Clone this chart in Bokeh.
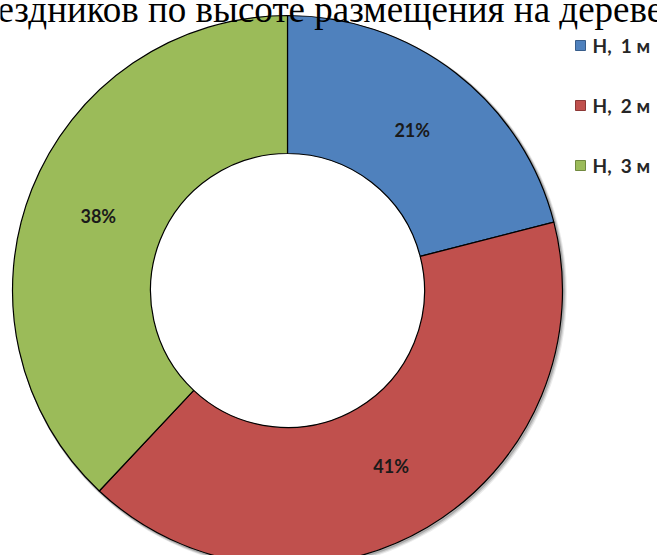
import numpy as np
from bokeh.plotting import figure
from bokeh.models import Range1d, ColumnDataSource
from bokeh.core.properties import value
from bokeh.embed import file_html
from bokeh.resources import INLINE

title_text = "ездников по высоте размещения на дереве"
categories = ["Н,\u00a0 1 м", "Н,\u00a0 2 м", "Н,\u00a0 3 м"]
shares = [21, 41, 38]
labels = ["21%", "41%", "38%"]
colors = ["#4F81BD", "#C0504D", "#9BBB59"]

W, H = 657, 555
cx, cy = 287, H - 290
R_out, R_in = 275, 137

vals = np.array(shares, dtype=float)
frac = vals / vals.sum()
cum = np.concatenate([[0], np.cumsum(frac)])
# clockwise from 12 o'clock
start = np.pi / 2 - cum[1:] * 2 * np.pi
end = np.pi / 2 - cum[:-1] * 2 * np.pi
mid = (start + end) / 2
lr = 0.74 * R_out

src = ColumnDataSource(dict(
    start=start, end=end, color=colors, label=labels,
    lx=cx + lr * np.cos(mid), ly=cy + lr * np.sin(mid),
))

p = figure(width=W, height=H, output_backend="svg", toolbar_location=None,
           x_range=Range1d(0, W), y_range=Range1d(0, H), min_border=0)
p.axis.visible = False
p.grid.visible = False
p.outline_line_color = None

# soft shadow
for off, a in [(4, 0.08), (3, 0.12), (2, 0.18)]:
    p.annulus(x=cx + off * 0.6, y=cy - off * 0.6, inner_radius=R_out - 2, outer_radius=R_out + off * 0.5,
              fill_color="black", fill_alpha=a, line_color=None)

p.annular_wedge(x=cx, y=cy, inner_radius=R_in, outer_radius=R_out,
                start_angle="start", end_angle="end", fill_color="color",
                line_color="black", line_width=1.2, source=src)

p.text(x="lx", y="ly", text="label", source=src, text_align="center", text_baseline="middle",
       text_font=value("Lato"), text_font_style="bold", text_font_size="18px", text_color="#1a1a1a")

# title (clipped at top and right, as in the reference)
p.text(x=[-3], y=[H - 9], text=[title_text], text_font=value("Liberation Serif"),
       text_font_size="37px", text_baseline="alphabetic", text_color="black")

# legend
leg_y = [H - 45, H - 105, H - 165]
p.rect(x=[580] * 3, y=leg_y, width=10, height=10, fill_color=colors,
       line_color=["#385d8a", "#8c3836", "#71893f"], line_width=1)
p.text(x=[592] * 3, y=leg_y, text=categories, text_baseline="middle",
       text_font=value("Lato"), text_font_style="bold", text_font_size="19px", text_color="#262626")

open("out.html", "w").write(file_html(p, INLINE))
